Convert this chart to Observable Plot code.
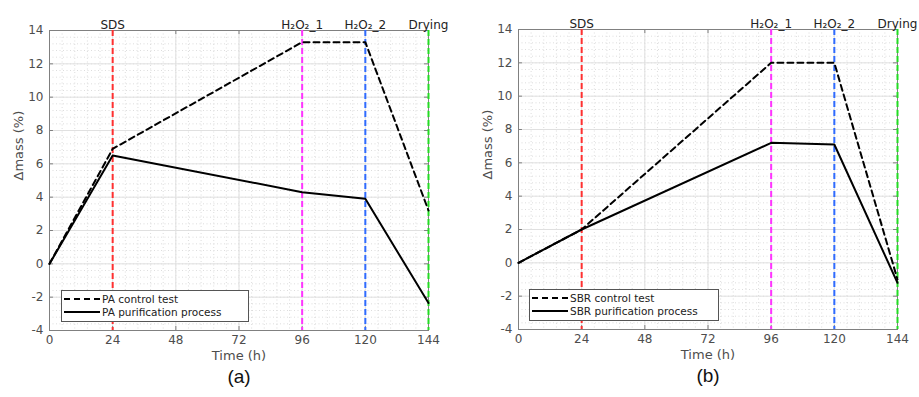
<!DOCTYPE html>
<html>
<head>
<meta charset="utf-8">
<script src="https://cdn.jsdelivr.net/npm/d3@7"></script>
<script src="https://cdn.jsdelivr.net/npm/@observablehq/plot@0.6"></script>
<style>
  html, body { margin: 0; padding: 0; background: #fff; }
  #wrap { display: flex; width: 919px; height: 397px; }
  .panel { position: relative; }
  .legend { position: absolute; background: #fff; border: 1px solid #555; box-sizing: border-box;
            font-family: "DejaVu Sans", sans-serif; color: #222; }
</style>
</head>
<body>
<div id="wrap"></div>
<script>
// ---- data ----
const hours = [0, 24, 96, 120, 144];
const paControl = [0, 6.9, 13.3, 13.3, 3.2];
const paPurification = [0, 6.5, 4.3, 3.9, -2.35];
const sbrControl = [0, 2.0, 12.0, 12.0, -1.0];
const sbrPurification = [0, 2.0, 7.2, 7.1, -1.2];
const eventTimes = [24, 96, 120, 144];
const eventLabels = ["SDS", "H\u2082O\u2082_1", "H\u2082O\u2082_2", "Drying"];
const eventColors = ["#ff3030", "#ff33ff", "#2f6bff", "#22dd22"];
const xTicks = [0, 24, 48, 72, 96, 120, 144];
const yTicks = [-4, -2, 0, 2, 4, 6, 8, 10, 12, 14];
const panelTags = ["(a)", "(b)"];
const legendNames = [["PA control test", "PA purification process"], ["SBR control test", "SBR purification process"]];

const minorX = d3.range(0, 144.001, 4.8);
const minorY = d3.range(-4, 14.001, 0.4);

function panel(cfg) {
  const ctrl = hours.map((t, i) => ({t, v: cfg.control[i]}));
  const pur = hours.map((t, i) => ({t, v: cfg.purif[i]}));
  const div = document.createElement("div");
  div.className = "panel";
  div.style.width = cfg.width + "px";
  const tx = 1.5, ty = 0.24; // inward tick lengths in data units
  const chart = Plot.plot({
    width: cfg.width, height: 397,
    marginLeft: cfg.ml, marginRight: cfg.mr, marginTop: cfg.mt, marginBottom: cfg.mb,
    x: {domain: [0, 144]},
    y: {domain: [-4, 14]},
    color: {type: "identity"},
    style: {fontFamily: "DejaVu Sans, sans-serif", fontSize: "12px", color: "#4d4d4d", background: "#fff"},
    marks: [
      Plot.ruleX(minorX, {x: d => d, stroke: "#d4d4d4", strokeDasharray: "1,2.5", strokeWidth: 0.8}),
      Plot.ruleY(minorY, {y: d => d, stroke: "#d4d4d4", strokeDasharray: "1,2.5", strokeWidth: 0.8}),
      Plot.gridX(xTicks, {stroke: "#e0e0e0", strokeOpacity: 1}),
      Plot.gridY(yTicks, {stroke: "#e0e0e0", strokeOpacity: 1}),
      Plot.frame({stroke: "#808080"}),
      Plot.ruleY(yTicks, {y: d => d, x1: 0, x2: tx, stroke: "#808080"}),
      Plot.ruleY(yTicks, {y: d => d, x1: 144 - tx, x2: 144, stroke: "#808080"}),
      Plot.ruleX(xTicks, {x: d => d, y1: -4, y2: -4 + ty, stroke: "#808080"}),
      Plot.ruleX(xTicks, {x: d => d, y1: 14 - ty, y2: 14, stroke: "#808080"}),
      Plot.axisX(xTicks, {tickSize: 0, tickPadding: 5, label: null, fontSize: 12}),
      Plot.axisY(yTicks, {tickSize: 0, tickPadding: 6, label: null, tickFormat: d => String(d), fontSize: 12}),
      Plot.text(["Time (h)"], {frameAnchor: "bottom", dy: 29, fontSize: 13, fill: "#4d4d4d"}),
      Plot.text(["\u0394mass (%)"], {frameAnchor: "left", dx: -31, rotate: -90, fontSize: 13, fill: "#4d4d4d"}),
      Plot.ruleX(eventTimes, {x: d => d, stroke: (d, i) => eventColors[i], strokeWidth: 2, strokeDasharray: "6,3"}),
      Plot.text(eventTimes, {x: d => d, text: (d, i) => eventLabels[i], frameAnchor: "top", dy: -10, fontSize: 12, fill: "#222"}),
      Plot.line(ctrl, {x: "t", y: "v", stroke: "black", strokeWidth: 2, strokeDasharray: "6,4"}),
      Plot.line(pur, {x: "t", y: "v", stroke: "black", strokeWidth: 2}),
      Plot.text([cfg.tag], {frameAnchor: "bottom", dy: 52, fontSize: 19, fontFamily: "Liberation Sans, Arial, sans-serif", fill: "#111"})
    ]
  });
  div.appendChild(chart);
  const lg = document.createElement("div");
  lg.className = "legend";
  lg.style.left = cfg.lg[0] + "px";
  lg.style.top = cfg.lg[1] + "px";
  lg.style.width = cfg.lg[2] + "px";
  lg.style.height = "32px";
  lg.innerHTML = `<svg width="${cfg.lg[2]}" height="32" style="position:absolute;left:-1px;top:-1px">
    <line x1="3" x2="39" y1="9" y2="9" stroke="#000" stroke-width="2" stroke-dasharray="6,4"/>
    <line x1="3" x2="39" y1="22" y2="22" stroke="#000" stroke-width="2"/>
    <text x="41" y="13" font-family="DejaVu Sans" font-size="10.5" fill="#222">${cfg.names[0]}</text>
    <text x="41" y="26" font-family="DejaVu Sans" font-size="10.5" fill="#222">${cfg.names[1]}</text>
  </svg>`;
  div.appendChild(lg);
  return div;
}

const wrap = document.getElementById("wrap");
wrap.appendChild(panel({width: 460, ml: 49, mr: 32, mt: 30, mb: 67, control: paControl, purif: paPurification, tag: panelTags[0], names: legendNames[0], lg: [61, 290, 188]}));
wrap.appendChild(panel({width: 459, ml: 58, mr: 22, mt: 29, mb: 68, control: sbrControl, purif: sbrPurification, tag: panelTags[1], names: legendNames[1], lg: [69, 289, 190]}));
</script>
</body>
</html>
